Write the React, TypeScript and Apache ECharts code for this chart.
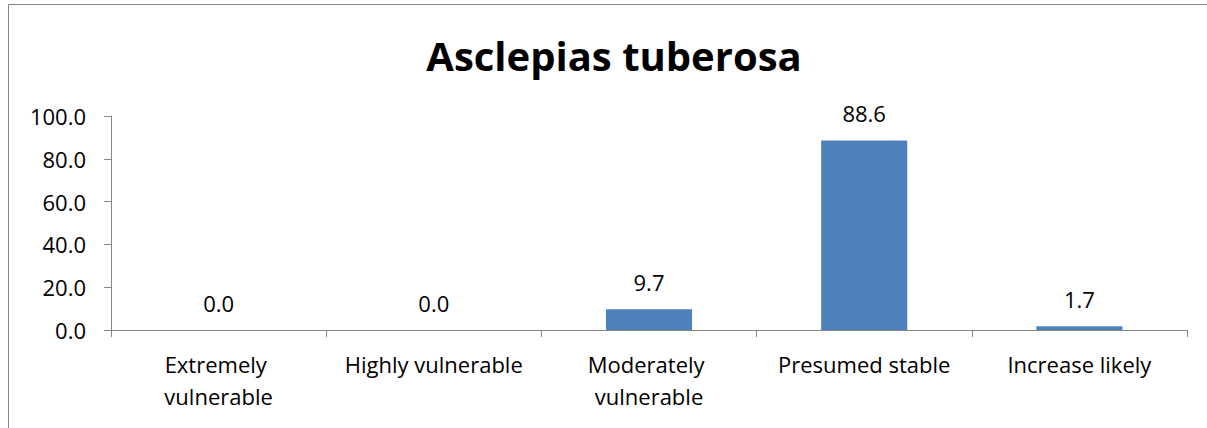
import React, { useEffect, useRef } from "react";
import * as echarts from "echarts";

const title = "Asclepias tuberosa";
const categories = [
  "Extremely vulnerable",
  "Highly vulnerable",
  "Moderately vulnerable",
  "Presumed stable",
  "Increase likely",
];
const values = [0.0, 0.0, 9.7, 88.6, 1.7];
const yMin = 0;
const yMax = 100;
const yInterval = 20;

const FONT = "'Open Sans', sans-serif";
const AXIS = "#868686";

export default function App() {
  const ref = useRef<HTMLDivElement>(null);
  useEffect(() => {
    if (!ref.current) return;
    const chart = echarts.init(ref.current, null, { renderer: "svg" });
    chart.setOption({
      animation: false,
      backgroundColor: "#ffffff",
      textStyle: { fontFamily: FONT },
      title: {
        text: title,
        left: 609,
        textAlign: "center",
        top: 30,
        textStyle: { fontFamily: FONT, fontSize: 40, fontWeight: "bold", color: "#000" },
      },
      graphic: [
        {
          type: "rect",
          silent: true,
          shape: { x: 8.5, y: 4.5, width: 1400, height: 600 },
          style: { fill: "none", stroke: AXIS, lineWidth: 1 },
        },
      ],
      grid: { left: 111, right: 20, top: 116, bottom: 98, containLabel: false },
      xAxis: {
        type: "category",
        data: categories,
        axisLine: { show: true, lineStyle: { color: AXIS, width: 1 } },
        axisTick: { show: true, length: 7, lineStyle: { color: AXIS } },
        axisLabel: {
          interval: 0,
          margin: 18,
          color: "#000",
          fontFamily: FONT,
          fontSize: 22,
          lineHeight: 32,
          width: 205,
          overflow: "break",
        },
        splitLine: { show: false },
      },
      yAxis: {
        type: "value",
        min: yMin,
        max: yMax,
        interval: yInterval,
        axisLine: { show: true, lineStyle: { color: AXIS, width: 1 } },
        axisTick: { show: true, length: 7, lineStyle: { color: AXIS } },
        axisLabel: {
          margin: 25,
          color: "#000",
          fontFamily: FONT,
          fontSize: 22,
          formatter: (v: number) => v.toFixed(1),
        },
        splitLine: { show: false },
      },
      series: [
        {
          type: "bar",
          data: values,
          barCategoryGap: "60%",
          itemStyle: { color: "#4F81BD" },
          label: {
            show: true,
            position: "top",
            distance: 16,
            color: "#000",
            fontFamily: FONT,
            fontSize: 22,
            formatter: (p: any) => Number(p.value).toFixed(1),
          },
        },
      ],
    });
    return () => chart.dispose();
  }, []);
  return (
    <div
      ref={ref}
      style={{ position: "fixed", left: 0, top: 0, width: 1207, height: 428 }}
    />
  );
}
